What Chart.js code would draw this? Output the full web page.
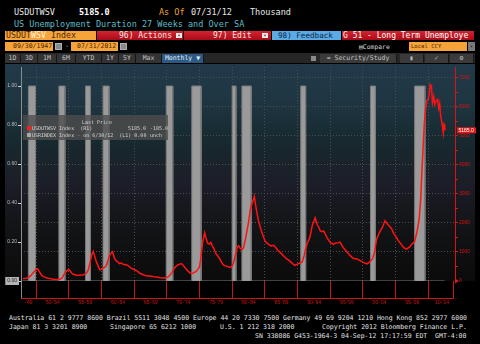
<!DOCTYPE html>
<html>
<head>
<meta charset="utf-8">
<script src="https://cdn.jsdelivr.net/npm/chart.js@4.4.0/dist/chart.umd.min.js"></script>
<style>
  html, body { margin: 0; padding: 0; background: #000; width: 480px; height: 344px; overflow: hidden; }
  body { position: relative; font-family: "DejaVu Sans Mono", "Liberation Mono", monospace; }
  .t { position: absolute; white-space: pre; line-height: 1; }
  .box { position: absolute; box-sizing: border-box; overflow: hidden; white-space: pre; }
  .red { background: linear-gradient(#d42430, #a80c18); color: #f4e6e6; }
  .org { background: #f6a43a; color: #4a2600; }
  .btn { background: #333; color: #c4c4c4; font-size: 6.5px; text-align: center; line-height: 9px; border-right: 1px solid #151515; }
  .ico { position: absolute; background: #8a8a8a; border: 1px solid #b0b0b0; box-sizing: border-box; }
  #chartWrap { position: absolute; left: 0; top: 63px; width: 480px; height: 250px; }
  #legendBox { position: absolute; left: 23px; top: 115px; width: 145px; height: 25px; background: rgba(78,78,78,0.8); font-size: 5px; color: #d2d2d2; }
  #legendBox .t { font-size: 5px; }
  .foot { font-size: 6.7px; color: #e4e4e4; transform-origin: left top; }
</style>
</head>
<body>

<!-- security header -->
<div class="t" style="left:14px;top:8px;font-size:8.5px;color:#e8e8e8;">USDUTWSV</div>
<div class="t" id="hdrPrice" style="left:79px;top:8px;font-size:8.5px;color:#fff;font-weight:bold;"></div>
<div class="t" style="left:159px;top:8px;font-size:8.5px;color:#f0a030;">As Of</div>
<div class="t" style="left:191px;top:8px;font-size:8.5px;color:#e8e8e8;">07/31/12</div>
<div class="t" style="left:250px;top:8px;font-size:8.5px;color:#e8e8e8;">Thousand</div>
<div class="t" style="left:14px;top:20px;font-size:8.5px;color:#5cbcc6;">US Unemployment Duration 27 Weeks and Over SA</div>

<!-- toolbar row -->
<div class="box org" style="left:5px;top:31px;width:91px;height:9px;font-size:8.3px;line-height:9px;padding-left:1px;">USDUT<span style="color:#fff2dc">WSV</span> Index</div>
<div class="box red" style="left:97px;top:31px;width:86px;height:9px;font-size:8px;line-height:9px;padding-left:22px;">96) Actions</div>
<div class="t" style="left:176px;top:33px;width:6px;height:5px;background:#e8e8e8;color:#600;font-size:5px;text-align:center;">&#9662;</div>
<div class="box red" style="left:184px;top:31px;width:87px;height:9px;font-size:8px;line-height:9px;padding-left:29px;">97) Edit</div>
<div class="t" style="left:262px;top:33px;width:6px;height:5px;background:#e8e8e8;color:#600;font-size:5px;text-align:center;">&#9662;</div>
<div class="box" style="left:272px;top:31px;width:69px;height:9px;background:#5aaae6;color:#0e2440;font-size:7.6px;line-height:9px;padding-left:6px;">98) Feedback</div>
<div class="box red" style="left:342px;top:31px;width:132px;height:9px;font-size:8px;line-height:9px;padding-left:1px;color:#fff;">G 51 - Long Term Unemploye</div>

<!-- date range row -->
<div class="box org" style="left:5px;top:42px;width:48px;height:9px;font-size:6.5px;line-height:9px;padding-left:8px;">09/30/1947</div>
<div class="ico" style="left:55px;top:43px;width:7px;height:7px;"></div>
<div class="t" style="left:65px;top:43px;font-size:7px;color:#f0a030;">-</div>
<div class="box org" style="left:71px;top:42px;width:47px;height:9px;font-size:6.5px;line-height:9px;padding-left:6px;">07/31/2012</div>
<div class="ico" style="left:120px;top:43px;width:7px;height:7px;"></div>
<div class="t" style="left:359px;top:44px;font-size:6.4px;color:#d8d8d8;">&#9636;Compare</div>
<div class="box org" style="left:409px;top:42px;width:58px;height:9px;font-size:5.6px;line-height:9px;padding-left:2px;">Local CCY</div>
<div class="box" style="left:468px;top:42px;width:7px;height:9px;background:#7a7a7a;color:#222;font-size:5px;line-height:9px;text-align:center;">&#9662;</div>

<!-- period buttons row -->
<div class="box" style="left:5px;top:53px;width:470px;height:10px;background:#262626;"></div>
<div class="box btn" style="left:5px;top:54px;width:16px;height:9px;">1D</div>
<div class="box btn" style="left:21px;top:54px;width:17px;height:9px;">3D</div>
<div class="box btn" style="left:38px;top:54px;width:19px;height:9px;">1M</div>
<div class="box btn" style="left:57px;top:54px;width:19px;height:9px;">6M</div>
<div class="box btn" style="left:76px;top:54px;width:26px;height:9px;">YTD</div>
<div class="box btn" style="left:102px;top:54px;width:17px;height:9px;">1Y</div>
<div class="box btn" style="left:119px;top:54px;width:17px;height:9px;">5Y</div>
<div class="box btn" style="left:136px;top:54px;width:26px;height:9px;">Max</div>
<div class="box btn" style="left:162px;top:54px;width:42px;height:9px;background:#2c5a86;color:#e8eef4;">Monthly &#9660;</div>
<div class="box" style="left:311px;top:56px;width:5px;height:5px;background:#8a8a8a;"></div>
<div class="box btn" style="left:320px;top:54px;width:77px;height:9px;background:#3a3a3a;">&#8776; Security/Study</div>
<div class="box btn" style="left:400px;top:54px;width:24px;height:9px;background:#3a3a3a;">&#9646;</div>
<div class="box btn" style="left:425px;top:54px;width:24px;height:9px;background:#3a3a3a;">&#10003;</div>
<div class="box btn" style="left:450px;top:54px;width:24px;height:9px;background:#3a3a3a;">&#9881;</div>

<div id="chartWrap"><canvas id="c" width="480" height="250"></canvas></div>

<!-- in-chart legend -->
<div id="legendBox">
  <div class="t" style="left:59px;top:5px;">Last Price</div>
  <div class="t" style="left:4px;top:11px;width:4px;height:4px;background:#ff1a1a;"></div>
  <div class="t" style="left:9px;top:11px;">USDUTWSV Index  (R1)</div>
  <div class="t" id="lgLast" style="left:105px;top:11px;"></div>
  <div class="t" id="lgChg" style="left:127px;top:11px;"></div>
  <div class="t" style="left:4px;top:18px;width:4px;height:4px;background:#a8a8a8;"></div>
  <div class="t" style="left:9px;top:18px;">USRINDEX Index - on 6/30/12  (L1) 0.00</div>
  <div class="t" style="left:127px;top:18px;">unch</div>
</div>

<!-- footer -->
<div class="t foot" id="footMain" style="left:9px;top:315px;">Australia 61 2 9777 8600 Brazil 5511 3048 4500 Europe 44 20 7330 7500 Germany 49 69 9204 1210 Hong Kong 852 2977 6000</div>
<div class="t foot" style="left:9px;top:324px;">Japan 81 3 3201 8900</div>
<div class="t foot" style="left:110px;top:324px;">Singapore 65 6212 1000</div>
<div class="t foot" style="left:220px;top:324px;">U.S. 1 212 318 2000</div>
<div class="t foot" style="left:322px;top:324px;">Copyright 2012 Bloomberg Finance L.P.</div>
<div class="t foot" style="left:255px;top:333px;">SN 338086 G453-1964-3 04-Sep-12 17:17:59 EDT  GMT-4:00</div>

<script>
// Unemployed 27 weeks and over, thousands (decimal year -> level)
const obsYears = [
  1948.00,1948.25,1948.50,1948.75,1949.00,1949.25,1949.50,1949.75,1950.00,1950.25,1950.50,1950.75,
  1951.00,1951.25,1951.50,1951.75,1952.00,1952.25,1952.50,1952.75,1953.00,1953.25,1953.50,1953.75,
  1954.00,1954.25,1954.50,1954.75,1955.00,1955.25,1955.50,1955.75,1956.00,1956.25,1956.50,1956.75,
  1957.00,1957.25,1957.50,1957.75,1958.00,1958.25,1958.50,1958.75,1959.00,1959.25,1959.50,1959.75,
  1960.00,1960.25,1960.50,1960.75,1961.00,1961.25,1961.50,1961.70,1962.00,1962.25,1962.50,1962.75,
  1963.00,1963.25,1963.50,1963.75,1964.00,1964.25,1964.50,1964.75,1965.00,1965.25,1965.50,1965.75,
  1966.00,1966.25,1966.50,1966.75,1967.00,1967.50,1968.00,1968.50,1969.00,1969.50,1969.90,
  1970.25,1970.50,1970.75,1971.00,1971.25,1971.50,1971.75,1972.00,1972.25,1972.50,1972.75,
  1973.00,1973.25,1973.50,1973.75,1974.00,1974.25,1974.50,1974.75,1975.00,1975.25,1975.50,1975.80,
  1976.00,1976.25,1976.50,1976.75,1977.00,1977.25,1977.50,1977.75,1978.00,1978.25,1978.50,1978.75,
  1979.00,1979.25,1979.50,1979.75,1980.00,1980.25,1980.50,1980.75,1981.00,1981.25,1981.50,1981.75,
  1982.00,1982.25,1982.50,1982.75,1983.00,1983.25,1983.40,1983.60,1983.75,1984.00,1984.25,1984.50,
  1984.75,1985.00,1985.25,1985.50,1985.75,1986.00,1986.25,1986.50,1986.75,1987.00,1987.50,1987.85,
  1988.25,1988.75,1989.25,1989.60,1990.00,1990.40,1990.70,1991.00,1991.25,1991.50,1991.90,
  1992.25,1992.50,1992.70,1993.00,1993.25,1993.50,1993.75,1994.00,1994.50,1995.00,1995.50,1995.75,
  1996.25,1996.50,1997.00,1997.60,1998.00,1998.50,1999.10,1999.60,2000.00,2000.60,2001.10,2001.50,
  2001.80,2002.10,2002.50,2003.00,2003.40,2003.70,2004.00,2004.40,2004.70,2005.00,2005.45,2005.75,
  2006.25,2006.70,2007.20,2007.50,2007.90,2008.25,2008.60,2008.85,2009.00,2009.20,2009.40,2009.60,
  2009.80,2010.00,2010.15,2010.30,2010.50,2010.65,2010.85,2011.00,2011.25,2011.45,2011.60,2011.75,
  2011.90,2012.05,2012.20,2012.30,2012.42,2012.50,2012.58
];
const longTermUnemployed = [
  80,85,95,110,150,200,270,330,390,420,330,230,
  170,140,120,100,90,80,65,60,55,50,60,70,
  110,210,300,360,400,340,260,230,215,190,200,195,
  210,215,240,280,390,620,890,1020,830,650,520,390,
  400,450,470,530,700,880,960,1010,780,700,660,600,
  620,590,560,570,540,500,450,420,400,370,340,290,
  250,230,205,190,175,170,150,135,115,100,110,
  150,210,280,380,470,520,560,580,600,540,470,
  400,340,290,260,270,300,330,400,480,850,1350,1660,
  1480,1300,1270,1330,1200,1100,950,880,800,700,600,540,
  520,500,480,470,510,650,900,1150,1210,1120,1080,1150,
  1400,1700,2000,2400,2650,2800,2910,2600,2400,2100,1900,1700,
  1550,1400,1320,1280,1230,1210,1230,1200,1130,1060,950,870,
  780,700,600,540,580,620,650,850,1100,1300,1500,
  1900,2050,2170,1950,1850,1720,1700,1720,1500,1330,1260,1300,
  1320,1340,1150,990,890,780,760,700,650,590,660,780,
  1000,1440,1650,1850,2070,1980,1900,1800,1640,1550,1380,1300,
  1150,1100,1180,1270,1350,1650,2100,2800,3600,4500,5400,5900,
  6200,6250,6400,6760,6700,6140,6350,6080,6200,6250,5950,6100,
  5700,5500,5300,5100,5400,5370,5185
];

// NBER recession periods (decimal years), plotted as 0/1 on the left axis
const recessionStart = [1948.83,1953.50,1957.58,1960.25,1969.92,1973.83,1980.00,1981.50,1990.50,2001.17,2007.92];
const recessionEnd   = [1949.92,1954.42,1958.33,1961.17,1970.92,1975.25,1980.58,1982.92,1991.25,2001.92,2009.50];

// Axis ticks
const leftTicks  = [0, 0.2, 0.4, 0.6, 0.8, 1.0];
const rightTicks = [0,500,1000,1500,2000,2500,3000,3500,4000,4500,5000,5500,6000,6500,7000];
const periodEdges = [1950,1955,1960,1965,1970,1975,1980,1985,1990,1995,2000,2005,2010];
const periodLabels = ["-'49","'50-'54","'55-'59","'60-'64","'65-'69","'70-'74","'75-'79","'80-'84","'85-'89","'90-'94","'95-'99","'00-'04","'05-'09","'10-'14"];

const X_MIN = 1947.7, X_MAX = 2014.1;
const LEFT_MAX = 1.0976, RIGHT_MAX = 7363;

const lastVal = longTermUnemployed[longTermUnemployed.length - 1];
const prevVal = longTermUnemployed[longTermUnemployed.length - 2];
const chg = lastVal - prevVal;
document.getElementById('hdrPrice').textContent = lastVal.toFixed(1);
document.getElementById('lgLast').textContent = lastVal.toFixed(1);
document.getElementById('lgChg').textContent = (chg > 0 ? '+' : '') + chg.toFixed(1);

// footer lines share one horizontal scale so the long contact line spans 9..467
(function fitFooter() {
  const main = document.getElementById('footMain');
  const k = 458 / main.getBoundingClientRect().width;
  document.querySelectorAll('.foot').forEach(el => { el.style.transform = 'scaleX(' + k + ')'; });
})();

const seriesPts = obsYears.map((x, i) => ({ x, y: longTermUnemployed[i] }));

const recPts = [{ x: X_MIN + 0.05, y: 0 }];
recessionStart.forEach((s, i) => {
  recPts.push({ x: s, y: 0 }, { x: s, y: 1 }, { x: recessionEnd[i], y: 1 }, { x: recessionEnd[i], y: 0 });
});
recPts.push({ x: 2012.5, y: 0 });

// label positions: middle of each period, first/last clipped to the axis range
const allEdges = [X_MIN, ...periodEdges, X_MAX];
const labelMap = new Map();
const mids = [];
for (let i = 0; i < periodLabels.length; i++) {
  const m = (allEdges[i] + allEdges[i + 1]) / 2;
  mids.push(m);
  labelMap.set(m.toFixed(3), periodLabels[i]);
}
const isEdge = v => periodEdges.some(e => Math.abs(e - v) < 1e-6);

const bgPlugin = {
  id: 'panelBg',
  beforeDraw(chart) {
    const { ctx, chartArea } = chart;
    const top = 1, bottom = chartArea.bottom;
    const g = ctx.createLinearGradient(0, top, 0, bottom);
    g.addColorStop(0.00, '#22394a');
    g.addColorStop(0.18, '#1e3541');
    g.addColorStop(0.34, '#172a30');
    g.addColorStop(0.46, '#1a232a');
    g.addColorStop(0.56, '#1c1d28');
    g.addColorStop(0.66, '#16181d');
    g.addColorStop(0.80, '#111214');
    g.addColorStop(1.00, '#0b0b0b');
    ctx.save();
    ctx.fillStyle = g;
    ctx.fillRect(5, top, 470, bottom - top);
    ctx.restore();
  }
};

const framePlugin = {
  id: 'frame',
  afterDraw(chart) {
    const { ctx, chartArea } = chart;
    const y2 = chart.scales.y2;
    const b = chartArea.bottom, low = b + 17;
    ctx.save();
    ctx.lineWidth = 1;
    ctx.strokeStyle = '#8a8a8a';
    ctx.beginPath(); ctx.moveTo(chartArea.left + 0.5, b); ctx.lineTo(chartArea.left + 0.5, low); ctx.stroke();
    ctx.strokeStyle = '#d01515';
    ctx.beginPath();
    ctx.moveTo(chartArea.left, low + 0.5); ctx.lineTo(chartArea.right - 1.5, low + 0.5);
    ctx.lineTo(chartArea.right - 1.5, b);
    ctx.stroke();
    // zero marker on the right axis
    ctx.fillStyle = '#e01515';
    ctx.beginPath(); ctx.moveTo(chartArea.right, b - 2.5); ctx.lineTo(chartArea.right + 4, b); ctx.lineTo(chartArea.right, b + 2.5); ctx.closePath(); ctx.fill();
    // last value tag
    const yv = y2.getPixelForValue(lastVal);
    ctx.fillStyle = '#e41818';
    ctx.fillRect(chartArea.right + 2, yv - 3, 19, 6);
    ctx.fillStyle = '#ffffff';
    ctx.font = '5px "Liberation Sans", sans-serif';
    ctx.textBaseline = 'middle';
    ctx.fillText(lastVal.toFixed(1), chartArea.right + 3.5, yv + 0.3);
    ctx.restore();
  }
};

new Chart(document.getElementById('c'), {
  type: 'line',
  data: {
    datasets: [
      {
        label: 'USDUTWSV Index',
        data: seriesPts,
        yAxisID: 'y2',
        borderColor: '#ff1212',
        borderWidth: 1.5,
        pointRadius: 0,
        tension: 0,
        fill: false,
        order: 0
      },
      {
        label: 'USRINDEX Index',
        data: recPts,
        yAxisID: 'y',
        borderColor: '#7a7a7a',
        backgroundColor: '#9a9a9a',
        borderWidth: 1,
        pointRadius: 0,
        tension: 0,
        fill: 'origin',
        order: 1
      }
    ]
  },
  options: {
    responsive: false,
    animation: false,
    devicePixelRatio: 1,
    layout: { padding: { top: 1, left: 0, right: 0, bottom: 0 } },
    plugins: { legend: { display: false }, tooltip: { enabled: false } },
    scales: {
      x: {
        type: 'linear',
        min: X_MIN,
        max: X_MAX,
        afterBuildTicks(s) {
          s.ticks = [...periodEdges, ...mids].sort((a, b) => a - b).map(v => ({ value: v }));
        },
        afterFit(s) { s.height = 32; },
        grid: {
          color: c => (c.tick && isEdge(c.tick.value)) ? '#4c4c4c' : 'rgba(0,0,0,0)',
          tickColor: c => (c.tick && isEdge(c.tick.value)) ? '#c81414' : 'rgba(0,0,0,0)',
          tickLength: 17,
          lineWidth: 1
        },
        border: { display: false, dash: [1, 2] },
        ticks: {
          autoSkip: false,
          maxRotation: 0,
          padding: 2,
          color: '#d01515',
          font: { family: 'Liberation Sans', size: 5 },
          callback: v => labelMap.get(Number(v).toFixed(3)) || ''
        }
      },
      y: {
        position: 'left',
        min: 0,
        max: LEFT_MAX,
        afterBuildTicks(s) { s.ticks = leftTicks.map(v => ({ value: v })); },
        afterFit(s) { s.width = 21; },
        grid: { drawOnChartArea: false, tickLength: 3, tickColor: '#d0d0d0' },
        border: { color: '#8c8c8c', width: 1 },
        ticks: {
          padding: 1,
          font: { family: 'Liberation Sans', size: 5 },
          color: c => (c.tick && c.tick.value === 0) ? '#1c1c1c' : '#bdbdbd',
          showLabelBackdrop: c => !!(c.tick && c.tick.value === 0),
          backdropColor: '#b4b4b4',
          backdropPadding: { x: 2, y: 1 },
          callback: v => Number(v).toFixed(2)
        }
      },
      y2: {
        position: 'right',
        min: 0,
        max: RIGHT_MAX,
        afterBuildTicks(s) { s.ticks = rightTicks.map(v => ({ value: v })); },
        afterFit(s) { s.width = 25; },
        grid: {
          color: c => (c.tick && c.tick.value % 1000 === 0 && c.tick.value > 0) ? '#4e4e4e' : 'rgba(0,0,0,0)',
          tickColor: '#d81414',
          tickLength: 3
        },
        border: { color: '#d81414', width: 1, dash: [1, 2] },
        ticks: {
          padding: 1,
          color: '#d81414',
          font: { family: 'Liberation Sans', size: 5 },
          callback: v => (v % 1000 === 0 ? String(v) : '')
        }
      }
    }
  },
  plugins: [bgPlugin, framePlugin]
});
</script>
</body>
</html>
